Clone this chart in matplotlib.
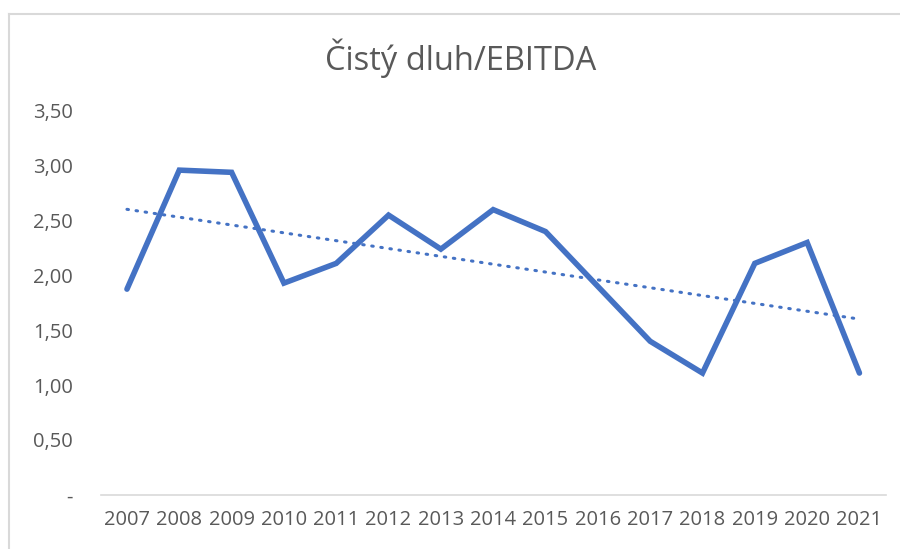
import numpy as np
import matplotlib
matplotlib.use('Agg')
import matplotlib.pyplot as plt
from matplotlib.ticker import FuncFormatter, MultipleLocator
from matplotlib.lines import Line2D

# data
years = ['2007', '2008', '2009', '2010', '2011', '2012', '2013', '2014',
         '2015', '2016', '2017', '2018', '2019', '2020', '2021']
ratio = [1.875, 2.96, 2.94, 1.93, 2.11, 2.55, 2.24, 2.60,
         2.40, 1.90, 1.40, 1.11, 2.11, 2.30, 1.11]
title = 'Čistý dluh/EBITDA'

plt.rcParams['font.family'] = ['Open Sans', 'DejaVu Sans']

blue = '#4472C4'
grey_txt = '#595959'

fig = plt.figure(figsize=(9, 5.49), dpi=100)
ax = fig.add_axes([0.112, 0.0987, 0.872, 0.6993])

x = np.arange(len(years))
ax.plot(x, ratio, color=blue, linewidth=4.0, solid_joinstyle='miter',
        solid_capstyle='round')

# linear trendline (Excel style)
k, q = np.polyfit(x, ratio, 1)
ax.plot(x, k * x + q, color=blue, linewidth=2.2, linestyle=(0, (0.5, 2.5)),
        dash_capstyle='round')

ax.set_xlim(-0.5, len(years) - 0.5)
ax.set_ylim(0, 3.5)
ax.yaxis.set_major_locator(MultipleLocator(0.5))
ax.yaxis.set_major_formatter(FuncFormatter(
    lambda v, p: '-' if abs(v) < 1e-9 else f'{v:.2f}'.replace('.', ',')))
ax.set_xticks(x)
ax.set_xticklabels(years)

for s in ['top', 'right', 'left']:
    ax.spines[s].set_visible(False)
ax.spines['bottom'].set_color('#d9d9d9')
ax.spines['bottom'].set_linewidth(1.2)
ax.tick_params(axis='both', length=0, colors=grey_txt, labelsize=14.5)
ax.tick_params(axis='y', pad=20)
ax.tick_params(axis='x', pad=11)

fig.text(0.512, 0.893, title, ha='center', va='center', fontsize=23.5,
         color=grey_txt)

# chart border (cropped at right and bottom)
fig.add_artist(Line2D([8.5 / 900, 1], [1 - 13.5 / 549] * 2, color='#d9d9d9', lw=1.5))
fig.add_artist(Line2D([8.5 / 900] * 2, [0, 1 - 13.5 / 549], color='#d9d9d9', lw=1.5))

fig.savefig('out.png', dpi=100)
